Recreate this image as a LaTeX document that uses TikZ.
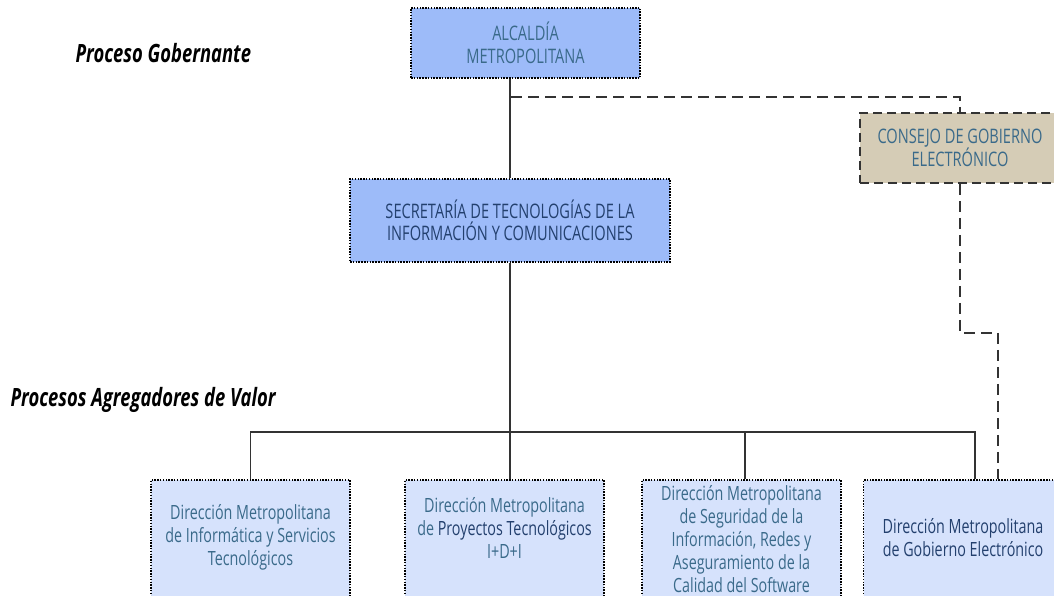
\documentclass[tikz,border=0pt]{standalone}
\usepackage{fontspec}
\setmainfont[FakeStretch=0.73]{Open Sans}
\usepackage{xcolor}
\usetikzlibrary{positioning}

\definecolor{topfill}{HTML}{9DBBF9}
\definecolor{subfill}{HTML}{D6E2FC}
\definecolor{consfill}{HTML}{D5CCB6}
\definecolor{tealtxt}{HTML}{3A6A8A}
\definecolor{navytxt}{HTML}{23406E}
\definecolor{linegray}{HTML}{333333}

\begin{document}
\begin{tikzpicture}[x=1pt,y=1pt,
    topbox/.style={draw=black,dash pattern=on 1.5pt off 1.3pt,line width=1.6pt,fill=topfill,
        align=center,font=\fontsize{20}{22.5}\selectfont},
    dirbox/.style={draw=black,dash pattern=on 1.5pt off 1.3pt,line width=1.6pt,fill=subfill,
        minimum width=199pt,minimum height=150pt},
    dirtext/.style={align=center,text=tealtxt,font=\fontsize{19.6}{23}\selectfont},
    link/.style={draw=linegray,line width=1.8pt},
    dlink/.style={draw=linegray,line width=2pt,dash pattern=on 11pt off 6pt},
    proc/.style={font=\fontsize{25.2}{28}\selectfont\bfseries\itshape,anchor=west}]
\useasboundingbox (0,0) rectangle (1054,596);

\node[topbox,text=tealtxt,minimum width=229pt,minimum height=70pt] (alc) at (525.5,553)
    {ALCALDÍA\\METROPOLITANA};
\node[topbox,text=navytxt,minimum width=320pt,minimum height=83pt] (sec) at (510,375.5)
    {SECRETARÍA DE TECNOLOGÍAS DE LA\\INFORMACIÓN Y COMUNICACIONES};
\node[topbox,fill=consfill,text=tealtxt,dash pattern=on 9pt off 5pt,draw=linegray,
    minimum width=200pt,minimum height=70pt] (cons) at (960,448)
    {CONSEJO DE GOBIERNO\\ELECTRÓNICO};

\node[proc] (gobt) at (72,543) {Proceso Gobernante};
\node[proc] (valt) at (7,196) {Procesos Agregadores de Valor};

% direcciones
\node[dirbox] (inf) at (250.5,41) {};
\node[dirbox] (pro) at (504.5,41) {};
\node[dirbox] (seg) at (741.5,41) {};
\node[dirbox] (gob) at (963,41) {};
\node[dirtext] (inft) at (250.5,59)
    {Dirección Metropolitana\\de Informática y Servicios\\Tecnológicos};
\node[dirtext] (prot) at (504.5,68)
    {Dirección Metropolitana\\de \textcolor{navytxt}{Proyectos Tecnológicos}\\I+D+I};
\node[dirtext] (segt) at (741.5,56.5)
    {Dirección Metropolitana\\de Seguridad de la\\Información, Redes y\\Aseguramiento de la\\Calidad del Software};
\node[dirtext,text=navytxt] (gobtx) at (963,58)
    {Dirección Metropolitana\\de Gobierno Electrónico};

\coordinate (bus) at (510,164);
\coordinate (dj) at (511,499);

\draw[link] (sec.north) -- (sec.north |- alc.south);
\draw[link] (sec.south) -- (bus);
\draw[link] (inf.north) |- ([xshift=12pt]gob.north |- bus) -- ([xshift=12pt]gob.north);
\draw[link] (pro.north -| bus) -- (bus);
\draw[link] ([xshift=3.5pt]seg.north) -- ([xshift=3.5pt]seg.north |- bus);

\draw[dlink] (dj) -| (cons.north);
\draw[dlink] (cons.south) -- ++(0,-149) -| ([xshift=35pt]gob.north);
\end{tikzpicture}
\end{document}
